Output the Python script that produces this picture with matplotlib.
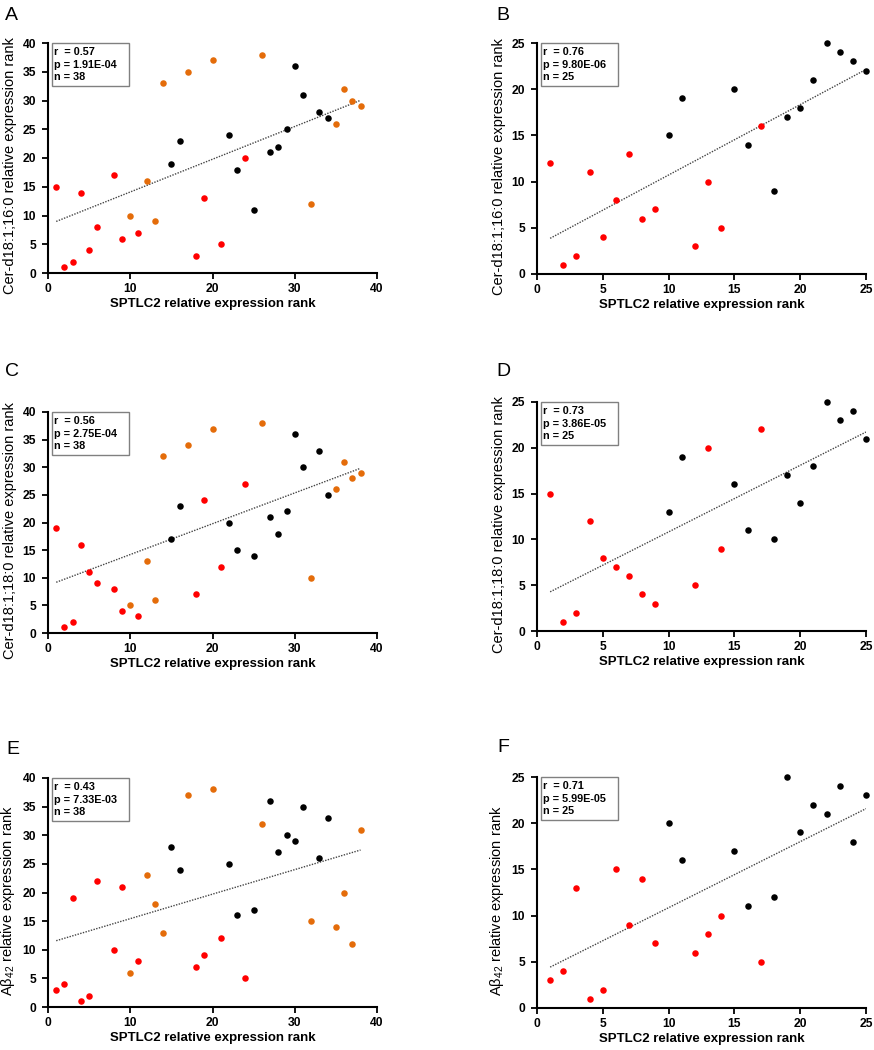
import numpy as np
import matplotlib.pyplot as plt
from matplotlib.patches import Rectangle

plt.rcParams['font.family'] = ['Liberation Sans', 'DejaVu Sans']
plt.rcParams['mathtext.fontset'] = 'custom'
plt.rcParams['mathtext.rm'] = 'Liberation Sans'
plt.rcParams['mathtext.it'] = 'Liberation Sans:italic'

# SPTLC2 ranks and sample group (r = red, o = orange, b = black)
rank38 = [1, 2, 3, 4, 5, 6, 7, 8, 9, 10, 11, 12, 13, 14, 15, 16, 17, 18, 19,
          20, 21, 22, 23, 24, 25, 26, 27, 28, 29, 30, 31, 32, 33, 34, 35, 36, 37, 38]
group38 = ['r', 'r', 'r', 'r', 'r', 'r', 'o', 'r', 'r', 'o', 'r', 'o', 'o', 'o', 'b', 'b', 'o', 'r', 'r',
           'o', 'r', 'b', 'b', 'r', 'b', 'o', 'b', 'b', 'b', 'b', 'b', 'o', 'b', 'b', 'o', 'o', 'o', 'o']
rank25 = [1, 2, 3, 4, 5, 6, 7, 8, 9, 10, 11, 12, 13, 14, 15, 16, 17, 18, 19, 20, 21, 22, 23, 24, 25]
group25 = ['r', 'r', 'r', 'r', 'r', 'r', 'r', 'r', 'r', 'b', 'b', 'r', 'r', 'r', 'b', 'b', 'r',
           'b', 'b', 'b', 'b', 'b', 'b', 'b', 'b']

# y ranks, in the same order as the x ranks
cer16_38 = [15, 1, 2, 14, 4, 8, 34, 17, 6, 10, 7, 16, 9, 33, 19, 23, 35, 3, 13,
            37, 5, 24, 18, 20, 11, 38, 21, 22, 25, 36, 31, 12, 28, 27, 26, 32, 30, 29]
cer16_25 = [12, 1, 2, 11, 4, 8, 13, 6, 7, 15, 19, 3, 10, 5, 20, 14, 16, 9, 17, 18, 21, 25, 24, 23, 22]
cer18_38 = [19, 1, 2, 16, 11, 9, 35, 8, 4, 5, 3, 13, 6, 32, 17, 23, 34, 7, 24,
            37, 12, 20, 15, 27, 14, 38, 21, 18, 22, 36, 30, 10, 33, 25, 26, 31, 28, 29]
cer18_25 = [15, 1, 2, 12, 8, 7, 6, 4, 3, 13, 19, 5, 20, 9, 16, 11, 22, 10, 17, 14, 18, 25, 23, 24, 21]
abeta_38 = [3, 4, 19, 1, 2, 22, 34, 10, 21, 6, 8, 23, 18, 13, 28, 24, 37, 7, 9,
            38, 12, 25, 16, 5, 17, 32, 36, 27, 30, 29, 35, 15, 26, 33, 14, 20, 11, 31]
abeta_25 = [3, 4, 13, 1, 2, 15, 9, 14, 7, 20, 16, 6, 8, 10, 17, 11, 5, 12, 25, 19, 22, 21, 24, 18, 23]

stat_r = ['0.57', '0.76', '0.56', '0.73', '0.43', '0.71']
stat_p = ['1.91E-04', '9.80E-06', '2.75E-04', '3.86E-05', '7.33E-03', '5.99E-05']
stat_n = ['38', '25', '38', '25', '38', '25']
letters = ['A', 'B', 'C', 'D', 'E', 'F']
ylabels = ['Cer-d18:1;16:0 relative expression rank', 'Cer-d18:1;16:0 relative expression rank',
           'Cer-d18:1;18:0 relative expression rank', 'Cer-d18:1;18:0 relative expression rank',
           'Aβ$_{42}$ relative expression rank', 'Aβ$_{42}$ relative expression rank']
xlabel = 'SPTLC2 relative expression rank'

colors = {'r': '#ff0000', 'o': '#e46c0a', 'b': '#000000'}

W, H = 874, 1050
# axes in pixels: left, top, right, bottom
boxes = [(48, 43, 377, 273), (537, 43, 866, 274),
         (48, 412, 377, 633), (537, 402, 866, 631),
         (48, 778, 377, 1007), (537, 777, 866, 1008)]
letter_xy = [(5, 15), (496, 15), (5, 372), (496, 372), (6, 750), (497, 748)]


def draw_panel(fig, box, x, y, groups, top, r, p, n, letter, ylab, lxy):
    l, t, rgt, b = box
    w, h = rgt - l, b - t
    ax = fig.add_axes([l / W, 1 - b / H, w / W, h / H])
    x = np.array(x)
    y = np.array(y)
    groups = np.array(groups)

    slope, icpt = np.polyfit(x, y, 1)
    xs = np.array([x.min(), x.max()])
    ax.plot(xs, slope * xs + icpt, color='#444444', lw=1, linestyle=(0, (1, 1)), zorder=2)
    for g in ['r', 'o', 'b']:
        m = groups == g
        if m.any():
            ax.scatter(x[m], y[m], s=22, color=colors[g], lw=0, zorder=3, clip_on=False)

    ax.set_xlim(0, top)
    ax.set_ylim(0, top)
    ax.set_yticks(np.arange(0, top + 1, 5))
    ax.set_xticks(np.arange(0, top + 1, 10 if top == 40 else 5))
    for s in ['top', 'right']:
        ax.spines[s].set_visible(False)
    for s in ['left', 'bottom']:
        ax.spines[s].set_linewidth(1.5)
    ax.tick_params(direction='out', length=4, width=1.3, labelsize=8.7, pad=4.5)
    ax.tick_params(axis='x', pad=3)
    for lab in ax.get_xticklabels() + ax.get_yticklabels():
        lab.set_fontweight('bold')

    ax.set_xlabel(xlabel, fontsize=9.5, fontweight='bold')
    ax.xaxis.set_label_coords(0.5, -25 / h)
    ax.set_ylabel(ylab, fontsize=10.5)
    ax.yaxis.set_label_coords(-31 / w, 0.5 - 8 / h)

    ax.add_patch(Rectangle((4 / w, 1 - 43 / h), 77 / w, 43 / h, transform=ax.transAxes,
                           fc='white', ec='#808080', lw=1, zorder=4, clip_on=False))
    ax.text(6 / w, 1 - 4 / h, 'r  = %s\np = %s\nn = %s' % (r, p, n), transform=ax.transAxes,
            fontsize=7.8, fontweight='bold', va='top', ha='left', linespacing=1.32, zorder=5)

    fig.text(lxy[0] / W, 1 - lxy[1] / H, letter, fontsize=14, va='center', ha='left')
    return ax


fig = plt.figure(figsize=(W / 100, H / 100), dpi=100)
panels = [(rank38, cer16_38, group38, 40), (rank25, cer16_25, group25, 25),
          (rank38, cer18_38, group38, 40), (rank25, cer18_25, group25, 25),
          (rank38, abeta_38, group38, 40), (rank25, abeta_25, group25, 25)]
for i, (x, y, g, top) in enumerate(panels):
    draw_panel(fig, boxes[i], x, y, g, top, stat_r[i], stat_p[i], stat_n[i],
               letters[i], ylabels[i], letter_xy[i])

fig.savefig('out.png', dpi=100)
